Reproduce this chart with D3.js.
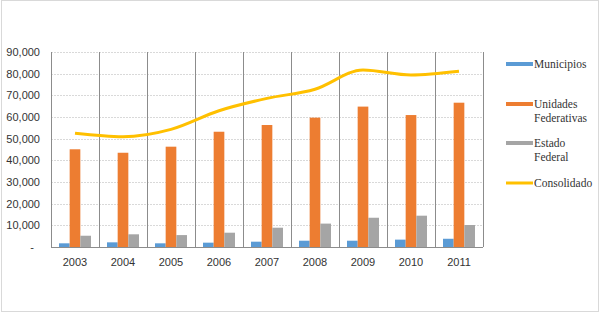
<!DOCTYPE html>
<html>
<head>
<meta charset="utf-8">
<script src="https://cdn.jsdelivr.net/npm/d3@7"></script>
<style>
  html, body { margin: 0; padding: 0; background: #fff; }
  .lab { font-family: "Liberation Sans", Arial, sans-serif; font-size: 11px; fill: #333; }
  .leg { font-family: "Liberation Serif", "DejaVu Serif", serif; font-size: 11.5px; fill: #333; }
</style>
</head>
<body>
<div id="viz"></div>
<script>
const years = ["2003", "2004", "2005", "2006", "2007", "2008", "2009", "2010", "2011"];
const municipios = [1700, 2150, 1700, 2000, 2450, 2900, 2900, 3400, 3800];
const unidades = [45100, 43500, 46300, 53200, 56300, 59700, 64800, 60900, 66600];
const estado = [5200, 5860, 5500, 6600, 8900, 10800, 13500, 14450, 10150];
const consolidado = [52500, 50900, 54300, 62900, 68600, 72800, 81700, 79400, 81100];
const yTicks = [0, 10000, 20000, 30000, 40000, 50000, 60000, 70000, 80000, 90000];

const width = 600;
const height = 313;

const svg = d3.select("#viz").append("svg")
    .attr("width", width)
    .attr("height", height);

// outer frame
svg.append("rect")
    .attr("x", 1.5).attr("y", 0.5)
    .attr("width", width - 3).attr("height", height - 2)
    .attr("fill", "none")
    .attr("stroke", "#d9d9d9");

const plotLeft = 51, plotRight = 483, plotTop = 52, plotBottom = 247;

const x = d3.scaleBand().domain(years).range([plotLeft, plotRight]);
const series = ["mun", "uni", "est"];
const x1 = d3.scaleBand().domain(series).range([0, x.bandwidth()]).paddingOuter(0.75);
const y = d3.scaleLinear().domain([0, 90000]).range([plotBottom, plotTop]);

// horizontal grid
svg.selectAll(".grid")
    .data(yTicks.slice(1))
    .enter().append("line")
    .attr("x1", plotLeft).attr("x2", plotRight)
    .attr("y1", d => Math.round(y(d)) + 0.5)
    .attr("y2", d => Math.round(y(d)) + 0.5)
    .attr("stroke", "#d9d9d9")
    .attr("stroke-dasharray", "2,1");

// vertical category separators
svg.selectAll(".sep")
    .data(years.concat(["end"]))
    .enter().append("line")
    .attr("x1", (d, i) => Math.round(plotLeft + i * x.step()) + 0.5)
    .attr("x2", (d, i) => Math.round(plotLeft + i * x.step()) + 0.5)
    .attr("y1", plotTop).attr("y2", plotBottom)
    .attr("stroke", "#8c8c8c");

// bottom axis line
svg.append("line")
    .attr("x1", plotLeft).attr("x2", plotRight)
    .attr("y1", Math.round(plotBottom) + 0.5).attr("y2", Math.round(plotBottom) + 0.5)
    .attr("stroke", "#8c8c8c");

// y labels
svg.selectAll(".ylab")
    .data(yTicks)
    .enter().append("text")
    .attr("class", "lab")
    .attr("x", d => d === 0 ? 34 : 40)
    .attr("y", d => y(d) + 4)
    .attr("text-anchor", "end")
    .text(d => d === 0 ? "-" : d3.format(",")(d));

// x labels
svg.selectAll(".xlab")
    .data(years)
    .enter().append("text")
    .attr("class", "lab")
    .attr("x", d => x(d) + x.bandwidth() / 2)
    .attr("y", 266)
    .attr("text-anchor", "middle")
    .text(d => d);

const colors = { mun: "#5b9bd5", uni: "#ed7d31", est: "#a5a5a5" };
const values = { mun: municipios, uni: unidades, est: estado };

series.forEach(s => {
    svg.selectAll(".bar-" + s)
        .data(years)
        .enter().append("rect")
        .attr("x", d => x(d) + x1(s))
        .attr("width", x1.bandwidth())
        .attr("y", (d, i) => y(values[s][i]))
        .attr("height", (d, i) => plotBottom - y(values[s][i]))
        .attr("fill", colors[s]);
});

// consolidado line
const line = d3.line()
    .x((d, i) => x(years[i]) + x.bandwidth() / 2)
    .y(d => y(d))
    .curve(d3.curveMonotoneX);

svg.append("path")
    .datum(consolidado)
    .attr("d", line)
    .attr("fill", "none")
    .attr("stroke", "#ffc000")
    .attr("stroke-width", 3)
    .attr("stroke-linejoin", "round");

// legend
const legend = [
    { lines: ["Municipios"], color: colors.mun, y: 64, w: 4 },
    { lines: ["Unidades", "Federativas"], color: colors.uni, y: 104, w: 4 },
    { lines: ["Estado", "Federal"], color: colors.est, y: 143, w: 4 },
    { lines: ["Consolidado"], color: "#ffc000", y: 183, w: 3 }
];

legend.forEach(l => {
    svg.append("line")
        .attr("x1", 506).attr("x2", 533)
        .attr("y1", l.y).attr("y2", l.y)
        .attr("stroke", l.color)
        .attr("stroke-width", l.w);
    l.lines.forEach((t, i) => {
        svg.append("text")
            .attr("class", "leg")
            .attr("x", 534)
            .attr("y", l.y + 4 + i * 14)
            .text(t);
    });
});
</script>
</body>
</html>
